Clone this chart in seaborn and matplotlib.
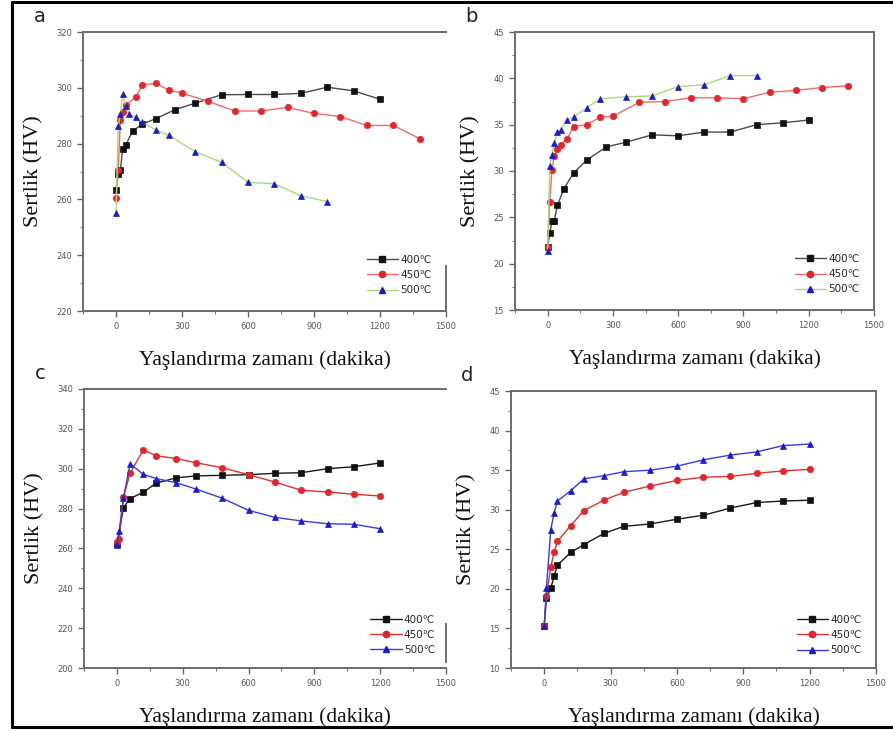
import numpy as np
import pandas as pd
import matplotlib
matplotlib.use("Agg")
import matplotlib.pyplot as plt
from matplotlib.ticker import MultipleLocator
from matplotlib.lines import Line2D
import seaborn as sns

# ---- data: aging time (min) vs hardness (HV) ----
A400_t = [0, 10, 20, 30, 45, 75, 120, 180, 270, 360, 480, 600, 720, 840, 960, 1080, 1200]
A400_v = [263.5, 269.2, 270.5, 278.0, 279.5, 284.5, 287.0, 288.9, 292.2, 294.5, 297.5, 297.6, 297.6, 298.0, 300.2, 298.9, 295.9]
A450_t = [0, 10, 20, 30, 45, 90, 120, 180, 240, 300, 420, 540, 660, 780, 900, 1020, 1140, 1260, 1380]
A450_v = [260.6, 270.5, 288.5, 291.4, 294.0, 296.6, 301.0, 301.6, 299.2, 298.1, 295.1, 291.7, 291.7, 293.0, 290.8, 289.7, 286.5, 286.5, 281.8]
A500_t = [0, 10, 20, 30, 45, 60, 90, 120, 180, 240, 360, 480, 600, 720, 840, 960]
A500_v = [255.0, 286.3, 290.5, 297.8, 293.6, 290.5, 289.4, 287.6, 284.9, 283.0, 277.1, 273.3, 266.1, 265.6, 261.3, 259.2]

B400_t = [0, 10, 20, 30, 45, 75, 120, 180, 270, 360, 480, 600, 720, 840, 960, 1080, 1200]
B400_v = [21.8, 23.3, 24.6, 24.6, 26.3, 28.1, 29.8, 31.2, 32.6, 33.1, 33.9, 33.8, 34.2, 34.2, 35.0, 35.2, 35.5]
B450_t = [0, 10, 20, 30, 45, 60, 90, 120, 180, 240, 300, 420, 540, 660, 780, 900, 1020, 1140, 1260, 1380]
B450_v = [21.8, 26.7, 30.1, 31.6, 32.4, 32.8, 33.5, 34.8, 35.0, 35.8, 35.9, 37.4, 37.5, 37.9, 37.9, 37.8, 38.5, 38.7, 39.0, 39.2]
B500_t = [0, 10, 20, 30, 45, 60, 90, 120, 180, 240, 360, 480, 600, 720, 840, 960]
B500_v = [21.4, 30.5, 31.7, 33.0, 34.2, 34.4, 35.5, 35.8, 36.8, 37.8, 38.0, 38.1, 39.1, 39.3, 40.3, 40.3]

C400_t = [0, 30, 60, 120, 180, 270, 360, 480, 600, 720, 840, 960, 1080, 1200]
C400_v = [262.0, 280.5, 285.0, 288.2, 292.8, 295.4, 296.4, 296.7, 297.0, 297.7, 298.0, 300.0, 301.0, 302.9]
C450_t = [0, 10, 30, 60, 120, 180, 270, 360, 480, 600, 720, 840, 960, 1080, 1200]
C450_v = [263.0, 264.5, 285.8, 297.7, 309.4, 306.5, 305.1, 303.0, 300.5, 297.0, 293.3, 289.2, 288.3, 287.2, 286.3]
C500_t = [0, 10, 30, 60, 120, 180, 270, 360, 480, 600, 720, 840, 960, 1080, 1200]
C500_v = [261.5, 268.5, 285.5, 302.5, 297.2, 295.0, 293.0, 289.8, 285.2, 279.1, 275.6, 273.8, 272.4, 272.1, 269.9]

D_t = [0, 10, 30, 45, 60, 120, 180, 270, 360, 480, 600, 720, 840, 960, 1080, 1200]
D400_v = [15.3, 18.8, 20.1, 21.6, 23.0, 24.6, 25.6, 27.0, 27.9, 28.2, 28.8, 29.3, 30.2, 30.9, 31.1, 31.2]
D450_v = [15.3, 19.1, 22.8, 24.6, 26.0, 28.0, 29.9, 31.2, 32.2, 33.0, 33.7, 34.1, 34.2, 34.6, 34.9, 35.1]
D500_v = [15.3, 20.1, 27.5, 29.6, 31.1, 32.4, 33.9, 34.3, 34.8, 35.0, 35.5, 36.3, 36.9, 37.3, 38.1, 38.3]

LABELS = ["400\u2103", "450\u2103", "500\u2103"]
PANELS = ["a", "b", "c", "d"]
X_LABEL = "Yaşlandırma zamanı (dakika)"
Y_LABEL = "Sertlik (HV)"
X_TICKS = [0, 300, 600, 900, 1200, 1500]

sns.set_theme(style="ticks")
plt.rcParams["font.family"] = ["DejaVu Sans"]

W, H = 893, 731
fig = plt.figure(figsize=(W / 100, H / 100), dpi=100)
fig.patch.set_facecolor("white")

# frame lines around the figure (left, top, bottom)
for xs, ys in [((12, 12), (2, 727)), ((12, W), (2, 2)), ((12, W), (727, 727))]:
    fig.add_artist(Line2D([x / W for x in xs], [1 - y / H for y in ys],
                          transform=fig.transFigure, lw=2.2, color="black"))


def px_axes(left, top, right, bottom):
    return fig.add_axes([left / W, 1 - bottom / H, (right - left) / W, (bottom - top) / H])


MK_COL = ["#111111", "#e3262c", "#1a1ad0"]
MARKERS = ["s", "o", "^"]
LINE_AB = ["#4a4a4a", "#f06a6a", "#a6dd72"]
LINE_CD = ["#1a1a1a", "#e03030", "#3a3ae0"]
MS = 4.6


def draw(ax, series, line_cols, ylim, ystep, yminor, letter,
         right_bounds=None, leg_anchor=(1.0, 0.02)):
    for (t, v), lc, mc, mk, lab in zip(series, line_cols, MK_COL, MARKERS, LABELS):
        df = pd.DataFrame({"t": t, "hv": v})
        sns.lineplot(data=df, x="t", y="hv", ax=ax, color=lc, lw=1.0, sort=False,
                     marker=mk, markersize=MS, markerfacecolor=mc, markeredgecolor=mc,
                     markeredgewidth=0.5, label=lab, legend=False)
    ax.set_xlim(-150, 1500)
    ax.set_ylim(*ylim)
    ax.set_xticks(X_TICKS)
    ax.xaxis.set_minor_locator(MultipleLocator(150))
    ax.yaxis.set_major_locator(MultipleLocator(ystep))
    ax.yaxis.set_minor_locator(MultipleLocator(yminor))
    ax.tick_params(axis="both", which="major", direction="out", length=4, width=1.0,
                   colors="#666666", labelsize=6, labelcolor="#555555", pad=4)
    ax.tick_params(axis="both", which="minor", direction="out", length=2, width=0.8,
                   colors="#777777")
    for s in ax.spines.values():
        s.set_color("#6d6d6d")
        s.set_linewidth(1.4)
    if right_bounds is not None:
        ax.spines["right"].set_bounds(*right_bounds)
    ax.set_xlabel(X_LABEL, family="Liberation Serif", fontsize=15.5, color="#111111", labelpad=14)
    ax.set_ylabel(Y_LABEL, family="Liberation Serif", fontsize=16, color="#111111", labelpad=9)
    ax.set_facecolor("white")
    handles = [Line2D([], [], color=lc, lw=1.0, marker=mk, markersize=MS,
                      markerfacecolor=mc, markeredgecolor=mc)
               for lc, mc, mk in zip(line_cols, MK_COL, MARKERS)]
    ax.legend(handles, LABELS, loc="lower right", bbox_to_anchor=leg_anchor, frameon=False,
              fontsize=7.5, handlelength=3.0, handletextpad=0.2, labelspacing=0.5,
              borderaxespad=0.3)
    ax.text(-0.12, 1.02, letter, transform=ax.transAxes, fontsize=14, color="#222222",
            ha="center", va="bottom")


ax_a = px_axes(83, 32, 446, 311)
draw(ax_a, [(A400_t, A400_v), (A450_t, A450_v), (A500_t, A500_v)], LINE_AB,
     (220, 320), 20, 10, PANELS[0], right_bounds=(220, 236), leg_anchor=(0.98, 0.03))

ax_b = px_axes(515, 32, 874, 310)
draw(ax_b, [(B400_t, B400_v), (B450_t, B450_v), (B500_t, B500_v)], LINE_AB,
     (15, 45), 5, 2.5, PANELS[1], leg_anchor=(0.98, 0.03))

ax_c = px_axes(84, 389, 446, 668)
draw(ax_c, [(C400_t, C400_v), (C450_t, C450_v), (C500_t, C500_v)], LINE_CD,
     (200, 340), 20, 10, PANELS[2], right_bounds=(203, 222), leg_anchor=(0.99, 0.02))

ax_d = px_axes(511, 391, 876, 668)
draw(ax_d, [(D_t, D400_v), (D_t, D450_v), (D_t, D500_v)], LINE_CD,
     (10, 45), 5, 2.5, PANELS[3], leg_anchor=(0.98, 0.02))

fig.savefig("out.png", dpi=100, facecolor="white")
